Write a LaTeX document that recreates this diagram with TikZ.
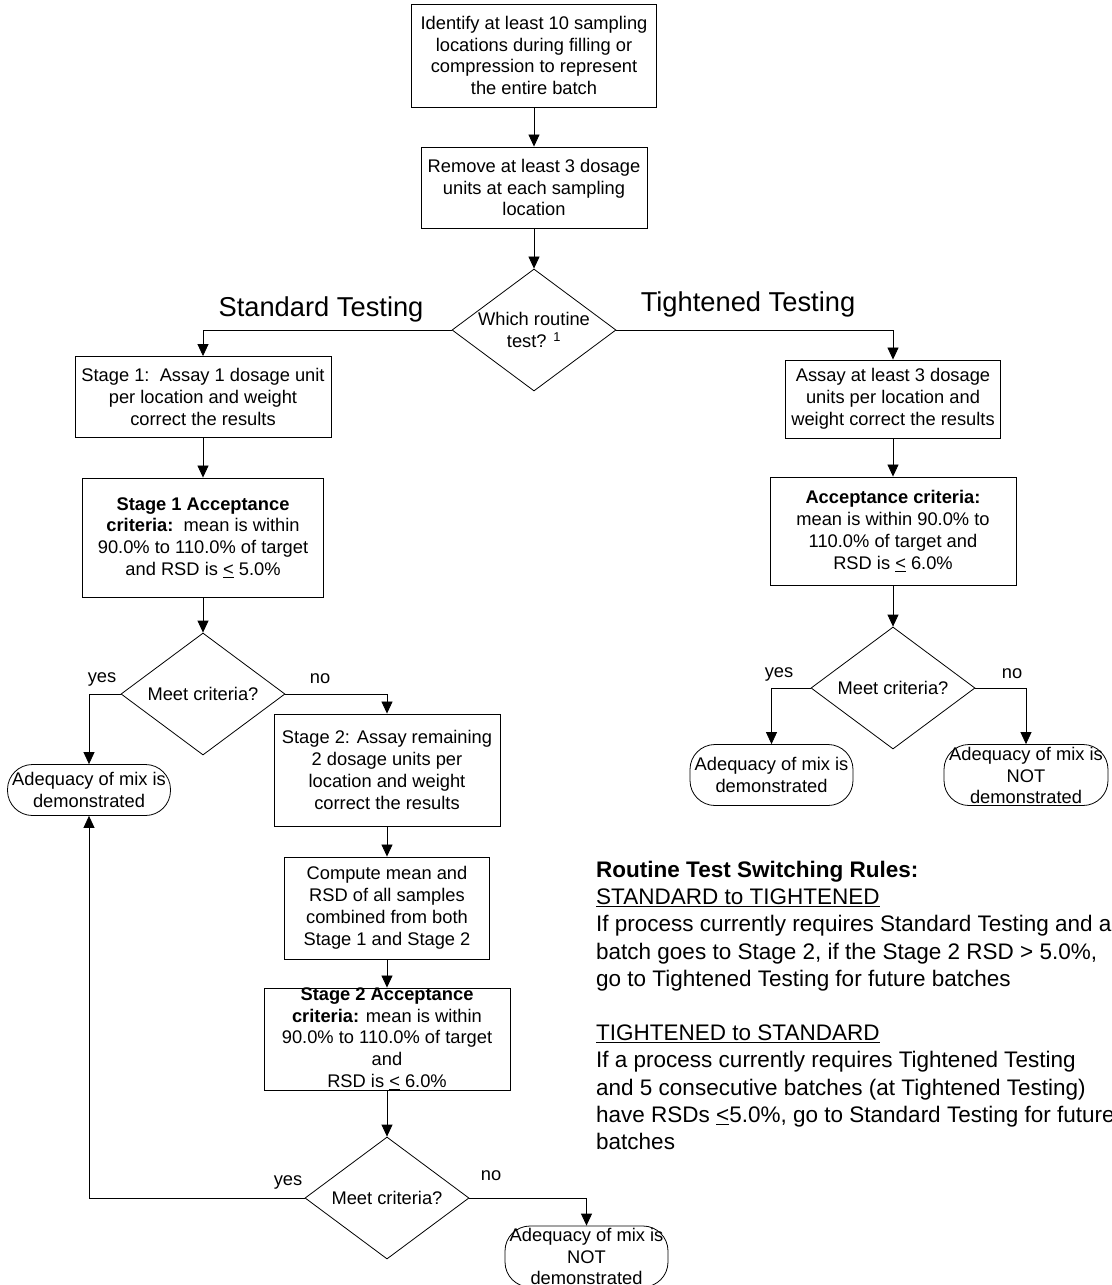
\documentclass[tikz,border=0pt]{standalone}
\usepackage{fontspec}
\setmainfont{Liberation Sans}
\usetikzlibrary{shapes.geometric,arrows.meta}
\begin{document}
\begin{tikzpicture}[x=1pt,y=-1pt,
  every node/.style={font=\fontsize{18.3}{21.9}\selectfont},
  box/.style={draw=black, line width=0.9pt, rectangle, inner sep=0pt, align=center},
  dia/.style={draw=black, line width=0.8pt, diamond, inner sep=0pt, minimum width=164pt, minimum height=122pt},
  term/.style={draw=black, line width=0.8pt, rectangle, rounded corners=25pt, inner sep=0pt, align=center},
  txt/.style={align=center, inner sep=0pt},
  big/.style={font=\fontsize{27.3}{32}\selectfont},
  arr/.style={draw, line width=0.8pt, -{Triangle[length=12pt,width=11pt]}},
  ]
\fill[white] (0,0) rectangle (1111,1285);
\useasboundingbox (0,0) rectangle (1111,1285);

% left / top column
\node[box, minimum width=245pt, minimum height=103pt] (b1) at (534,55.5) {Identify at least 10 sampling\\locations during filling or\\compression to represent\\the entire batch};
\node[box, minimum width=226pt, minimum height=81pt] (b2) at (534,187.5) {Remove at least 3 dosage\\units at each sampling\\location};
\node[dia] (d1) at (534,330) {};
\node[txt] (d1t) at (534,330) {Which routine\\test? \textsuperscript{1}};
\node[big] (std) at (321,309) {Standard Testing};
\node[big] (tgt) at (748,304) {Tightened Testing};

\node[box, minimum width=256pt, minimum height=81pt] (s1) at (203,397) {Stage 1:\ \ Assay 1 dosage unit\\per location and weight\\correct the results};
\node[box, minimum width=241pt, minimum height=119pt] (s1a) at (203,537.5) {\textbf{Stage 1 Acceptance}\\\textbf{criteria:}\ \ mean is within\\90.0\% to 110.0\% of target\\and RSD is \underline{<} 5.0\%};
\node[dia] (d2) at (203,694) {};
\node[txt] (d2t) at (203,694) {Meet criteria?};
\node[term, minimum width=163pt, minimum height=51pt] (e1) at (89,790) {Adequacy of mix is\\demonstrated};

\node[box, minimum width=226pt, minimum height=112pt] (s2) at (387,770) {Stage 2: Assay remaining\\2 dosage units per\\location and weight\\correct the results};
\node[box, minimum width=205pt, minimum height=102pt] (cm) at (387,908) {Compute mean and\\RSD of all samples\\combined from both\\Stage 1 and Stage 2};
\node[box, minimum width=246pt, minimum height=102pt] (s2a) at (387,1039) {};
\node[dia] (d3) at (387,1198) {};
\node[txt] (d3t) at (387,1198) {Meet criteria?};
\node[term, minimum width=163pt, minimum height=61pt] (e2) at (586.5,1256.5) {};

% right column
\node[box, minimum width=215pt, minimum height=78pt] (t1) at (893,399) {Assay at least 3 dosage\\units per location and\\weight correct the results};
\node[box, minimum width=246pt, minimum height=108pt] (ta) at (893,531) {\textbf{Acceptance criteria:}\\mean is within 90.0\% to\\110.0\% of target and\\RSD is \underline{<} 6.0\%};
\node[dia] (d4) at (893,688) {};
\node[txt] (d4t) at (893,688) {Meet criteria?};
\node[term, minimum width=163pt, minimum height=61pt] (e3) at (771.5,775) {Adequacy of mix is\\demonstrated};
\node[term, minimum width=164pt, minimum height=61pt] (e4) at (1026,775) {};

% connectors
\draw[arr] (b1) -- (b2);
\draw[arr] (b2) -- (d1);
\draw[arr] (d1.west) -| (s1.north);
\draw[arr] (d1.east) -| (t1.north);
\draw[arr] (s1) -- (s1a);
\draw[arr] (s1a) -- (d2);
\draw[arr] (d2.west) -| (e1.north);
\draw[arr] (d2.east) -| (s2.north);
\draw[arr] (s2) -- (cm);
\draw[arr] (cm) -- (s2a);
\draw[arr] (s2a) -- (d3);
\draw[arr] (d3.west) -| (e1.south);
\draw[arr] (d3.east) -| (e2.north);
\draw[arr] (t1) -- (ta);
\draw[arr] (ta) -- (d4);
\draw[arr] (d4.west) -| (e3.north);
\draw[arr] (d4.east) -| (e4.north);

% overflowing texts
\node[txt] (s2at) at (387,1038.5) {\textbf{Stage 2 Acceptance}\\\textbf{criteria:} mean is within\\90.0\% to 110.0\% of target\\and\\RSD is \underline{<} 6.0\%};
\node[txt] (e2t) at (586.5,1256.5) {Adequacy of mix is\\NOT\\demonstrated};
\node[txt] (e4t) at (1026,775.5) {Adequacy of mix is\\NOT\\demonstrated};

% yes / no labels
\node (y1) at (102,679) {yes};
\node (n1) at (320,679) {no};
\node (y2) at (288,1182) {yes};
\node (n2) at (491,1176) {no};
\node (y3) at (779,674) {yes};
\node (n3) at (1012,674) {no};

% switching rules
\node[anchor=north west, inner sep=0pt, align=left, font=\fontsize{22.5}{27.2}\selectfont] (rules) at (596,861) {\textbf{Routine Test Switching Rules:}\\
\underline{STANDARD to TIGHTENED}\\
If process currently requires Standard Testing and a\\
batch goes to Stage 2, if the Stage 2 RSD > 5.0\%,\\
go to Tightened Testing for future batches\\[27.2pt]
\underline{TIGHTENED to STANDARD}\\
If a process currently requires Tightened Testing\\
and 5 consecutive batches (at Tightened Testing)\\
have RSDs \underline{<}5.0\%, go to Standard Testing for future\\
batches};
\end{tikzpicture}
\end{document}
